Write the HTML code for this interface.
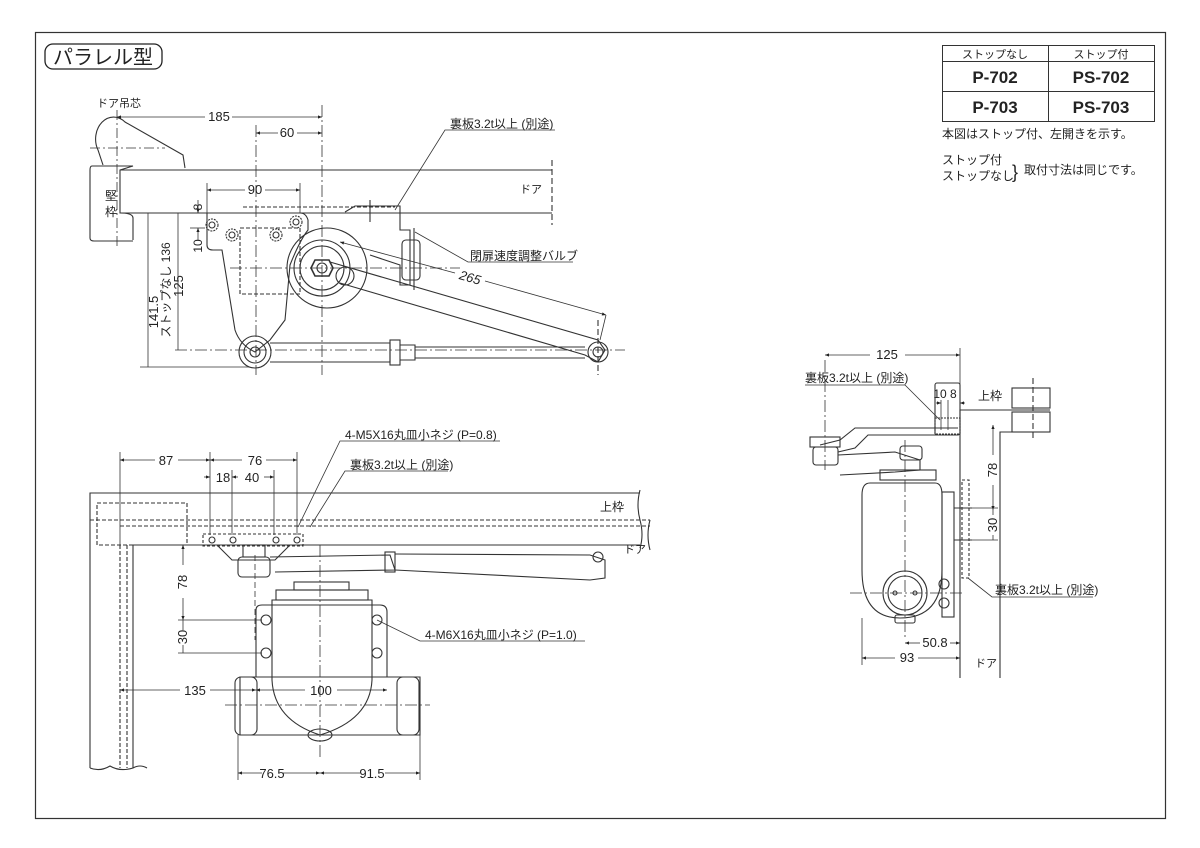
<!DOCTYPE html>
<html><head><meta charset="utf-8"><style>
html,body{margin:0;padding:0;background:#fff}
svg{display:block}
text{font-family:"Liberation Sans","Noto Sans CJK JP",sans-serif;fill:#222}
</style></head><body>
<svg width="1200" height="848" viewBox="0 0 1200 848" xmlns="http://www.w3.org/2000/svg">
<defs>
<marker id="a" viewBox="0 0 10 10" refX="10" refY="5" markerWidth="7" markerHeight="5" orient="auto-start-reverse"><path d="M0,1 L10,5 L0,9z" fill="#222"/></marker>
</defs>
<rect x="35.5" y="32.5" width="1130" height="786" fill="none" stroke="#333" stroke-width="1.2"/>
<rect x="45" y="44" width="117" height="25" rx="8" fill="none" stroke="#222" stroke-width="1.3"/>
<text x="103" y="64" font-size="20" text-anchor="middle">パラレル型</text>

<g stroke="#333" fill="none" stroke-width="1">
<rect x="942.5" y="45.5" width="212" height="76"/>
<line x1="942" y1="61.5" x2="1155" y2="61.5"/>
<line x1="942" y1="91.5" x2="1155" y2="91.5"/>
<line x1="1048.5" y1="45" x2="1048.5" y2="122"/>
</g>
<text x="995" y="58" font-size="11" text-anchor="middle">ストップなし</text>
<text x="1101" y="58" font-size="11" text-anchor="middle">ストップ付</text>
<text x="995" y="83" font-size="17" font-weight="bold" text-anchor="middle">P-702</text>
<text x="1101" y="83" font-size="17" font-weight="bold" text-anchor="middle">PS-702</text>
<text x="995" y="113" font-size="17" font-weight="bold" text-anchor="middle">P-703</text>
<text x="1101" y="113" font-size="17" font-weight="bold" text-anchor="middle">PS-703</text>
<text x="942" y="138" font-size="12">本図はストップ付、左開きを示す。</text>
<text x="942" y="164" font-size="12">ストップ付</text>
<text x="942" y="180" font-size="12">ストップなし</text>
<text x="1012" y="178" font-size="18">}</text>
<text x="1024" y="174" font-size="12">取付寸法は同じです。</text>

<g stroke="#333" fill="none" stroke-width="1.1">
<!-- ===== TOP VIEW ===== -->
<path d="M103,165 L98,150 A18,22 0 0 1 125,122 L183,155 L185,168"/>
<line x1="90" y1="148" x2="165" y2="148" stroke-dasharray="10,3,2,3" stroke-width="0.8"/>
<line x1="117" y1="110" x2="117" y2="248" stroke-dasharray="10,3,2,3" stroke-width="0.8"/>
<path d="M133,240 L133,218 Q133,213 120,213 L120,170 L133,166 L92,166 Q90,166 90,170 L90,238 Q90,241 94,241 L133,241"/>
<line x1="120" y1="170" x2="552" y2="170"/>
<line x1="120" y1="213" x2="552" y2="213"/>
<line x1="552" y1="160" x2="552" y2="225" stroke-dasharray="6,3"/>
<line x1="243" y1="207" x2="395" y2="207" stroke-dasharray="4,2"/>
<path d="M207,213 L207,245 Q207,250 213,250 L222,250 L235,330 Q240,345 255,352 L270,340 L285,320 L290,265 Q300,240 308,230 L308,220 Q306,213 300,213z"/>
<rect x="240" y="228" width="60" height="66" stroke-dasharray="4,2"/>
<circle cx="212" cy="225" r="3"/><circle cx="212" cy="225" r="6" stroke-dasharray="2,1"/>
<circle cx="232" cy="235" r="3"/><circle cx="232" cy="235" r="6" stroke-dasharray="2,1"/>
<circle cx="276" cy="235" r="3"/><circle cx="276" cy="235" r="6" stroke-dasharray="2,1"/>
<circle cx="296" cy="222" r="3"/><circle cx="296" cy="222" r="6" stroke-dasharray="2,1"/>
<circle cx="327" cy="268" r="40"/>
<circle cx="322" cy="268" r="28"/>
<circle cx="322" cy="268" r="22"/>
<polygon points="315,260 329,260 333,268 329,276 315,276 311,268" stroke-width="1.6"/>
<circle cx="322" cy="268" r="5"/>
<circle cx="345" cy="276" r="9"/>
<path d="M345,212 L355,206 L400,206 L400,230 L410,230 L410,285 L400,285 L400,265 L370,255"/>
<rect x="402" y="240" width="18" height="40" rx="4"/>
<line x1="414" y1="228" x2="414" y2="290"/>
<line x1="370" y1="200" x2="370" y2="222"/>
<path d="M330,262 L598,340 L605,350 L598,362 L585,355 L340,283"/>
<circle cx="598" cy="352" r="10"/><circle cx="598" cy="352" r="5"/>
<circle cx="255" cy="352" r="16"/><circle cx="255" cy="352" r="11"/><circle cx="255" cy="352" r="5"/>
<path d="M270,343 L390,343 L390,362 L270,362"/>
<rect x="390" y="340" width="10" height="25"/>
<path d="M400,345 L415,345 L415,360 L400,360"/>
<path d="M415,347 L585,347 M415,358 L585,358"/>
<line x1="175" y1="350" x2="625" y2="350" stroke-dasharray="12,3,2,3" stroke-width="0.8"/>
<line x1="322" y1="105" x2="322" y2="375" stroke-dasharray="12,3,2,3" stroke-width="0.8"/>
<line x1="256" y1="125" x2="256" y2="375" stroke-dasharray="12,3,2,3" stroke-width="0.8"/>
<line x1="230" y1="268" x2="460" y2="268" stroke-dasharray="12,3,2,3" stroke-width="0.8"/>
<line x1="598" y1="320" x2="598" y2="375" stroke-dasharray="6,3"/>
<g stroke-width="0.8">
<line x1="117" y1="117" x2="205" y2="117" marker-start="url(#a)"/><line x1="232" y1="117" x2="322" y2="117" marker-end="url(#a)"/>
<line x1="256" y1="133" x2="278" y2="133" marker-start="url(#a)"/><line x1="297" y1="133" x2="322" y2="133" marker-end="url(#a)"/>
<line x1="207" y1="190" x2="245" y2="190" marker-start="url(#a)"/><line x1="265" y1="190" x2="300" y2="190" marker-end="url(#a)"/>
<line x1="207" y1="183" x2="207" y2="213"/><line x1="300" y1="183" x2="300" y2="213"/>
<line x1="190" y1="213" x2="205" y2="213"/><line x1="190" y1="228" x2="205" y2="228"/>
<line x1="198" y1="200" x2="198" y2="213" marker-end="url(#a)"/>
<line x1="198" y1="240" x2="198" y2="228" marker-end="url(#a)"/>
<line x1="148" y1="213" x2="148" y2="367"/>
<line x1="178" y1="213" x2="178" y2="350"/>
<line x1="140" y1="367" x2="250" y2="367"/>
<line x1="340" y1="242" x2="455" y2="273" marker-start="url(#a)"/><line x1="485" y1="281" x2="606" y2="315" marker-end="url(#a)"/>
<line x1="606" y1="315" x2="600" y2="340"/>
<polyline points="395,210 445,130 555,130"/>
<polyline points="415,232 468,262 573,262"/>
</g>

<!-- ===== FRONT VIEW ===== -->
<path d="M90,768 L90,493 L640,493"/>
<path d="M133,768 L133,545 L640,545"/>
<path d="M640,490 Q636,505 640,520 Q644,535 640,548"/>
<line x1="90" y1="520" x2="650" y2="520" stroke-dasharray="4,2"/>
<line x1="120" y1="526" x2="650" y2="526" stroke-dasharray="4,2"/>
<path d="M650,520 Q646,535 650,550"/>
<rect x="97" y="503" width="90" height="42" stroke-dasharray="4,2"/>
<line x1="120" y1="545" x2="120" y2="768" stroke-dasharray="4,2"/>
<line x1="127" y1="545" x2="127" y2="768" stroke-dasharray="4,2"/>
<path d="M90,768 Q100,772 110,766 Q120,772 133,768 Q140,764 147,768"/>
<rect x="203" y="534" width="100" height="12" stroke-dasharray="3,2"/>
<path d="M217,545 L232,560 L275,560 L290,545"/>
<circle cx="212" cy="540" r="3"/><circle cx="233" cy="540" r="3"/><circle cx="276" cy="540" r="3"/><circle cx="297" cy="540" r="3"/>
<rect x="243" y="545" width="22" height="12"/>
<rect x="238" y="557" width="32" height="20" rx="4"/>
<path d="M270,557 L390,555 L395,570 L275,572"/>
<rect x="385" y="552" width="10" height="20"/>
<path d="M395,554 L590,555 L605,560 L605,578 L590,580 L395,570"/>
<circle cx="598" cy="557" r="5"/>
<rect x="294" y="582" width="55" height="8"/>
<rect x="276" y="590" width="92" height="10"/>
<path d="M256,610 Q256,605 262,605 L380,605 Q387,605 387,612 L387,677 L256,677z"/>
<path d="M272,680 L272,600 L372,600 L372,680 Q370,720 320,735 Q274,720 272,680"/>
<circle cx="266" cy="620" r="5"/><circle cx="266" cy="653" r="5"/>
<circle cx="377" cy="620" r="5"/><circle cx="377" cy="653" r="5"/>
<path d="M240,677 L420,677 L420,735 L240,735z"/>
<rect x="235" y="677" width="22" height="58" rx="6"/>
<rect x="397" y="677" width="22" height="58" rx="6"/>
<ellipse cx="320" cy="735" rx="12" ry="6"/>
<line x1="320" y1="545" x2="320" y2="760" stroke-dasharray="12,3,2,3" stroke-width="0.8"/>
<line x1="255" y1="555" x2="255" y2="640" stroke-dasharray="6,3" stroke-width="0.8"/>
<line x1="225" y1="705" x2="430" y2="705" stroke-dasharray="12,3,2,3" stroke-width="0.8"/>
<g stroke-width="0.8">
<line x1="120" y1="452" x2="120" y2="545"/>
<line x1="210" y1="452" x2="210" y2="535"/>
<line x1="297" y1="452" x2="297" y2="535"/>
<line x1="232" y1="470" x2="232" y2="535"/>
<line x1="274" y1="470" x2="274" y2="535"/>
<line x1="120" y1="460" x2="155" y2="460" marker-start="url(#a)"/><line x1="178" y1="460" x2="210" y2="460" marker-end="url(#a)"/>
<line x1="210" y1="460" x2="242" y2="460" marker-start="url(#a)"/><line x1="266" y1="460" x2="297" y2="460" marker-end="url(#a)"/>
<line x1="204" y1="477" x2="210" y2="477" marker-end="url(#a)"/><line x1="238" y1="477" x2="232" y2="477" marker-end="url(#a)"/>
<line x1="264" y1="477" x2="274" y2="477" marker-end="url(#a)"/>
<line x1="183" y1="545" x2="183" y2="565" marker-start="url(#a)"/><line x1="183" y1="598" x2="183" y2="620" marker-end="url(#a)"/>
<line x1="183" y1="620" x2="183" y2="630"/><line x1="183" y1="645" x2="183" y2="653"/>
<line x1="178" y1="620" x2="262" y2="620"/><line x1="178" y1="653" x2="262" y2="653"/>
<line x1="120" y1="690" x2="180" y2="690" marker-start="url(#a)"/><line x1="210" y1="690" x2="256" y2="690" marker-end="url(#a)"/>
<line x1="256" y1="690" x2="305" y2="690" marker-start="url(#a)"/><line x1="337" y1="690" x2="387" y2="690" marker-end="url(#a)"/>
<line x1="238" y1="735" x2="238" y2="780"/><line x1="420" y1="735" x2="420" y2="780"/>
<line x1="238" y1="773" x2="262" y2="773" marker-start="url(#a)"/><line x1="282" y1="773" x2="320" y2="773" marker-end="url(#a)"/>
<line x1="320" y1="773" x2="360" y2="773" marker-start="url(#a)"/><line x1="385" y1="773" x2="420" y2="773" marker-end="url(#a)"/>
<polyline points="298,527 340,441 500,441"/>
<polyline points="310,527 345,471 448,471"/>
<polyline points="377,620 420,641 585,641"/>
</g>

<!-- ===== SIDE VIEW ===== -->
<path d="M960,678 L960,410 L1050,410"/>
<path d="M1000,678 L1000,432 L1050,432"/>
<rect x="1012" y="388" width="38" height="20"/>
<rect x="1012" y="412" width="38" height="20"/>
<line x1="1033" y1="378" x2="1033" y2="440" stroke-dasharray="6,3"/>
<rect x="935" y="383" width="25" height="52" rx="2"/>
<rect x="935" y="418" width="25" height="16" stroke-dasharray="2,1"/>
<path d="M958,428 L855,428 L840,440 L820,445"/>
<path d="M950,435 L868,435 L855,448 L838,452"/>
<rect x="810" y="437" width="30" height="10"/>
<rect x="813" y="447" width="25" height="18" rx="3"/>
<path d="M838,455 L895,452 L920,460 L920,470 L895,472 L840,475"/>
<rect x="900" y="446" width="22" height="14" rx="3"/>
<rect x="880" y="470" width="56" height="10"/>
<path d="M862,495 Q862,483 870,483 L935,483 Q942,483 942,495 L942,570 Q942,618 900,618 Q862,618 862,570z"/>
<rect x="942" y="492" width="12" height="125"/>
<circle cx="905" cy="593" r="22"/>
<circle cx="905" cy="593" r="17"/>
<circle cx="895" cy="593" r="2"/><circle cx="915" cy="593" r="2"/>
<circle cx="944" cy="584" r="5"/><circle cx="944" cy="603" r="5"/>
<rect x="895" y="615" width="20" height="8" rx="2"/>
<line x1="954" y1="508" x2="972" y2="508"/><line x1="954" y1="540" x2="972" y2="540"/>
<rect x="962" y="480" width="7" height="98" stroke-dasharray="3,2"/>
<line x1="905" y1="440" x2="905" y2="640" stroke-dasharray="12,3,2,3" stroke-width="0.8"/>
<line x1="825" y1="360" x2="825" y2="470" stroke-dasharray="12,3,2,3" stroke-width="0.8"/>
<line x1="850" y1="593" x2="965" y2="593" stroke-dasharray="12,3,2,3" stroke-width="0.8"/>
<g stroke-width="0.8">
<line x1="960" y1="348" x2="960" y2="410"/>
<line x1="825" y1="355" x2="870" y2="355" marker-start="url(#a)"/><line x1="905" y1="355" x2="960" y2="355" marker-end="url(#a)"/>
<line x1="941" y1="400" x2="941" y2="430"/><line x1="948" y1="400" x2="948" y2="430"/>
<line x1="936" y1="403" x2="941" y2="403" marker-end="url(#a)"/><line x1="965" y1="403" x2="960" y2="403" marker-end="url(#a)"/>
<line x1="993" y1="425" x2="993" y2="455" marker-start="url(#a)"/><line x1="993" y1="485" x2="993" y2="510" marker-end="url(#a)"/>
<line x1="993" y1="510" x2="993" y2="515"/><line x1="993" y1="535" x2="993" y2="540"/>
<line x1="970" y1="508" x2="998" y2="508"/><line x1="970" y1="540" x2="998" y2="540"/>
<line x1="905" y1="643" x2="920" y2="643" marker-start="url(#a)"/><line x1="950" y1="643" x2="960" y2="643" marker-end="url(#a)"/>
<line x1="862" y1="618" x2="862" y2="665"/>
<line x1="862" y1="658" x2="895" y2="658" marker-start="url(#a)"/><line x1="918" y1="658" x2="960" y2="658" marker-end="url(#a)"/>
<polyline points="805,385 905,385 940,420"/>
<polyline points="968,578 992,597 1093,597"/>
</g>
</g>

<text x="97" y="107" font-size="11">ドア吊芯</text>
<text x="219" y="121" font-size="13" text-anchor="middle">185</text>
<text x="287" y="137" font-size="13" text-anchor="middle">60</text>
<text x="255" y="194" font-size="13" text-anchor="middle">90</text>
<text x="450" y="128" font-size="12">裏板3.2t以上 (別途)</text>
<text x="520" y="193" font-size="11">ドア</text>
<text x="470" y="260" font-size="12">閉扉速度調整バルブ</text>
<text x="470" y="282" font-size="13" font-style="italic" text-anchor="middle" transform="rotate(16 470 278)">265</text>
<text x="105" y="200" font-size="12">堅</text>
<text x="105" y="216" font-size="12">枠</text>
<text transform="translate(202,207) rotate(-90)" font-size="12" text-anchor="middle">8</text>
<text transform="translate(202,246) rotate(-90)" font-size="12" text-anchor="middle">10</text>
<text transform="translate(158,312) rotate(-90)" font-size="13" text-anchor="middle">141.5</text>
<text transform="translate(170,290) rotate(-90)" font-size="12" text-anchor="middle">ストップなし 136</text>
<text transform="translate(183,286) rotate(-90)" font-size="13" text-anchor="middle">125</text>

<text x="345" y="439" font-size="12">4-M5X16丸皿小ネジ (P=0.8)</text>
<text x="350" y="469" font-size="12">裏板3.2t以上 (別途)</text>
<text x="166" y="465" font-size="13" text-anchor="middle">87</text>
<text x="255" y="465" font-size="13" text-anchor="middle">76</text>
<text x="223" y="482" font-size="13" text-anchor="middle">18</text>
<text x="252" y="482" font-size="13" text-anchor="middle">40</text>
<text x="600" y="511" font-size="12">上枠</text>
<text x="624" y="553" font-size="11">ドア</text>
<text transform="translate(187,582) rotate(-90)" font-size="13" text-anchor="middle">78</text>
<text transform="translate(187,637) rotate(-90)" font-size="13" text-anchor="middle">30</text>
<text x="195" y="695" font-size="13" text-anchor="middle">135</text>
<text x="321" y="695" font-size="13" text-anchor="middle">100</text>
<text x="425" y="639" font-size="12">4-M6X16丸皿小ネジ (P=1.0)</text>
<text x="272" y="778" font-size="13" text-anchor="middle">76.5</text>
<text x="372" y="778" font-size="13" text-anchor="middle">91.5</text>

<text x="887" y="359" font-size="13" text-anchor="middle">125</text>
<text x="805" y="382" font-size="12">裏板3.2t以上 (別途)</text>
<text x="945" y="398" font-size="12" text-anchor="middle">10 8</text>
<text x="978" y="400" font-size="12">上枠</text>
<text transform="translate(997,470) rotate(-90)" font-size="13" text-anchor="middle">78</text>
<text transform="translate(997,525) rotate(-90)" font-size="13" text-anchor="middle">30</text>
<text x="995" y="594" font-size="12">裏板3.2t以上 (別途)</text>
<text x="935" y="647" font-size="13" text-anchor="middle">50.8</text>
<text x="907" y="662" font-size="13" text-anchor="middle">93</text>
<text x="975" y="667" font-size="11">ドア</text>
</svg>
</body></html>
